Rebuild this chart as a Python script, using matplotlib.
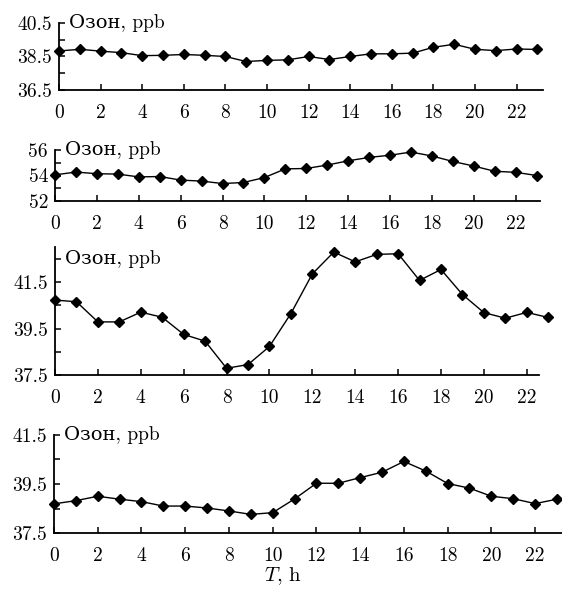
import matplotlib
matplotlib.use("Agg")
import matplotlib.pyplot as plt
from matplotlib.ticker import FixedLocator

plt.rcParams['font.family'] = ['cmr10', 'DejaVu Serif']
plt.rcParams['mathtext.fontset'] = 'cm'
plt.rcParams['axes.formatter.use_mathtext'] = True

hours = list(range(24))
hour_ticks = list(range(0, 23, 2))
label = 'Озон, ppb'

# ozone, ppb, one value per hour
ozone1 = [38.83, 38.93, 38.82, 38.73, 38.55, 38.57, 38.62, 38.57, 38.50, 38.20, 38.27, 38.30,
          38.50, 38.32, 38.50, 38.66, 38.66, 38.70, 39.05, 39.23, 38.93, 38.85, 38.95, 38.92]
ozone2 = [54.05, 54.27, 54.14, 54.11, 53.89, 53.92, 53.64, 53.56, 53.37, 53.45, 53.84, 54.52,
          54.55, 54.82, 55.15, 55.42, 55.59, 55.84, 55.53, 55.10, 54.74, 54.33, 54.25, 54.00]
ozone3 = [40.73, 40.66, 39.79, 39.79, 40.21, 39.99, 39.25, 38.96, 37.79, 37.95, 38.73, 40.15,
          41.86, 42.80, 42.38, 42.70, 42.73, 41.58, 42.05, 40.97, 40.19, 39.95, 40.20, 39.98]
ozone4 = [38.69, 38.82, 39.00, 38.88, 38.78, 38.60, 38.60, 38.52, 38.40, 38.26, 38.33, 38.89,
          39.53, 39.53, 39.76, 39.98, 40.42, 40.03, 39.52, 39.33, 39.00, 38.90, 38.70, 38.88]

yticks1 = [36.5, 38.5, 40.5]
yminor1 = [37.5, 39.5]
yticks2 = [52, 54, 56]
yminor2 = [53, 55]
yticks3 = [37.5, 39.5, 41.5]
yminor3 = [38.5, 40.5, 42.5]
yticks4 = [37.5, 39.5, 41.5]
yminor4 = [38.5, 40.5]

W, H = 562, 592
fig = plt.figure(figsize=(W / 100, H / 100), dpi=100)

# (left, top, right, bottom) in pixels, y limits, x right limit, label height
panels = [
    (ozone1, yticks1, yminor1, (59, 23, 543, 90), (36.5, 40.5), 23.27, 40.5),
    (ozone2, yticks2, yminor2, (55, 150, 540, 201), (52, 56), 23.16, 56),
    (ozone3, yticks3, yminor3, (55, 247, 539, 375), (37.5, 43.02), 22.57, 42.5),
    (ozone4, yticks4, yminor4, (54, 435, 562, 533), (37.5, 41.5), 23.23, 41.5),
]

for vals, yt, ym, box, ylim, xmax, ylab in panels:
    l, t, r, b = box
    ax = fig.add_axes([l / W, 1 - b / H, (r - l) / W, (b - t) / H])
    ax.plot(hours, vals, color='black', lw=1.0, marker='D', ms=4.6,
            clip_on=False, zorder=5)
    ax.set_xlim(0, xmax)
    ax.set_ylim(*ylim)
    ax.set_xticks(hour_ticks)
    ax.set_xticklabels([str(h) for h in hour_ticks])
    ax.yaxis.set_major_locator(FixedLocator(yt))
    ax.yaxis.set_minor_locator(FixedLocator(ym))
    ax.set_yticklabels([('%g' % v) if v % 1 else str(int(v)) for v in yt])
    for s in ['top', 'right']:
        ax.spines[s].set_visible(False)
    for s in ['left', 'bottom']:
        ax.spines[s].set_linewidth(1.3)
    ax.tick_params(axis='both', which='both', direction='in', length=4, width=1.1,
                   labelsize=14)
    ax.tick_params(axis='x', pad=10)
    ax.tick_params(axis='y', pad=5)
    ax.annotate(label, xy=(0, ylab), xycoords=('axes fraction', 'data'),
                xytext=(7, 0), textcoords='offset points', va='center', ha='left',
                fontsize=14)

fig.text(283 / W, 1 - 576 / H, r'$T$, h', ha='center', va='center', fontsize=15)

fig.savefig('out.png', dpi=100)
